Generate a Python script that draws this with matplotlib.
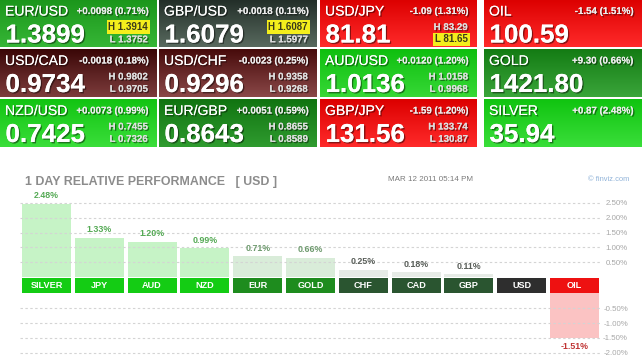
import matplotlib
matplotlib.use('Agg')
import matplotlib.pyplot as plt
import numpy as np
from matplotlib import patheffects as pe
from matplotlib.colors import to_rgb

plt.rcParams['font.family'] = ['Liberation Sans', 'DejaVu Sans']

# ---------------- data ----------------
tile_names = ['EUR/USD', 'GBP/USD', 'USD/JPY', 'OIL',
              'USD/CAD', 'USD/CHF', 'AUD/USD', 'GOLD',
              'NZD/USD', 'EUR/GBP', 'GBP/JPY', 'SILVER']
tile_changes = ['+0.0098', '+0.0018', '-1.09', '-1.54',
                '-0.0018', '-0.0023', '+0.0120', '+9.30',
                '+0.0073', '+0.0051', '-1.59', '+0.87']
tile_pcts = ['0.71%', '0.11%', '1.31%', '1.51%',
             '0.18%', '0.25%', '1.20%', '0.66%',
             '0.99%', '0.59%', '1.20%', '2.48%']
tile_prices = ['1.3899', '1.6079', '81.81', '100.59',
               '0.9734', '0.9296', '1.0136', '1421.80',
               '0.7425', '0.8643', '131.56', '35.94']
tile_highs = ['1.3914', '1.6087', '83.29', None,
              '0.9802', '0.9358', '1.0158', None,
              '0.7455', '0.8655', '133.74', None]
tile_lows = ['1.3752', '1.5977', '81.65', None,
             '0.9705', '0.9268', '0.9968', None,
             '0.7326', '0.8589', '130.87', None]
tile_marked = ['H', 'H', 'L', '',
               '', '', '', '',
               '', '', '', '']

perf_labels = ['SILVER', 'JPY', 'AUD', 'NZD', 'EUR', 'GOLD',
               'CHF', 'CAD', 'GBP', 'USD', 'OIL']
perf_values = [2.48, 1.33, 1.20, 0.99, 0.71, 0.66,
               0.25, 0.18, 0.11, 0.00, -1.51]
pos_ticks = [2.5, 2.0, 1.5, 1.0, 0.5]
neg_ticks = [-0.5, -1.0, -1.5, -2.0]

title_text = '1 DAY RELATIVE PERFORMANCE   [ USD ]'
date_text = 'MAR 12 2011 05:14 PM'
credit_text = '\u00a9 finviz.com'

# ---------------- styles ----------------
tile_grad = [('#1b961b', '#36b636'), ('#222e28', '#58695e'), ('#dc0000', '#ff2a2a'), ('#dc0000', '#ff2a2a'),
             ('#3a0707', '#7d3c3c'), ('#470b0b', '#8a4848'), ('#0fbf0f', '#36d836'), ('#147c14', '#3aa53a'),
             ('#12c412', '#3ade3a'), ('#117411', '#2f9b2f'), ('#dc0000', '#ff2a2a'), ('#10c410', '#3ade3a')]

bar_colors = ['#c6f3c6'] * 4 + ['#d9ecd9'] * 2 + ['#e6ebe6'] * 3 + ['#eeeeee', '#fbc3c3']
box_colors = ['#14cc14'] * 4 + ['#1e8c1e'] * 2 + ['#2a5530'] * 3 + ['#2e2e2e', '#ee1111']
val_colors = ['#55aa55'] * 4 + ['#6e9a6e'] * 2 + ['#5a5f5a'] * 3 + ['#555555', '#c03535']

W, H = 642, 362
fig = plt.figure(figsize=(W / 100, H / 100), dpi=100)
fig.patch.set_facecolor('white')

bg = fig.add_axes([0, 0, 1, 1])
bg.set_xlim(0, W)
bg.set_ylim(H, 0)
bg.axis('off')

col_left = [0, 159, 320, 484]
col_w = [157, 158, 157, 158]
row_top = [0, 49.5, 99.5]
row_h = 47.5

shadow = [pe.withSimplePatchShadow(offset=(1, -1), shadow_rgbFace='black', alpha=0.45), pe.Normal()]

for i, name in enumerate(tile_names):
    r, c = divmod(i, 4)
    L, T, Wt = col_left[c], row_top[r], col_w[c]
    top, bot = tile_grad[i]
    grad = np.linspace(np.array(to_rgb(top)), np.array(to_rgb(bot)), 64).reshape(64, 1, 3)
    bg.imshow(grad, extent=(L, L + Wt, T + row_h, T), aspect='auto', interpolation='bilinear', zorder=1)
    bg.text(L + 5, T + 15.5, name, color='white', fontsize=10.1, va='baseline', ha='left',
            path_effects=shadow, zorder=3)
    bg.text(L + Wt - 8, T + 14, f'{tile_changes[i]} ({tile_pcts[i]})', color='#ececec', fontsize=7,
            fontweight='bold', va='baseline', ha='right', path_effects=shadow, zorder=3)
    bg.text(L + 5.5, T + 42.5, tile_prices[i], color='white', fontsize=18.7, fontweight='bold',
            va='baseline', ha='left', path_effects=shadow, zorder=3)
    if tile_highs[i] is not None:
        for key, val, yc in (('H', tile_highs[i], 27), ('L', tile_lows[i], 39.3)):
            marked = tile_marked[i] == key
            kw = {}
            if marked:
                kw['bbox'] = dict(boxstyle='square,pad=0.18', fc='#f4ee1c', ec='none')
            bg.text(L + Wt - 9, T + yc, f'{key} {val}', fontsize=7, fontweight='bold',
                    color='#3a3a1a' if marked else '#dedede', va='center', ha='right',
                    path_effects=None if marked else shadow, zorder=3, **kw)

bg.set_xlim(0, W)
bg.set_ylim(H, 0)

# titles
bg.text(25, 185, title_text, color='#8c8c8c', fontsize=8.95, fontweight='bold', ha='left', va='baseline')
bg.text(388, 181, date_text, color='#7a7a7a', fontsize=5.8, ha='left', va='baseline')
bg.text(629, 181, credit_text, color='#8fb2d8', fontsize=5.4, ha='right', va='baseline')

# ---------------- performance chart ----------------
zero_px = 277.1
px_per_pct = 29.65
band = 0.55
ax_left_px, ax_right_px = 20.1, 600.9
ax_top_px, ax_bot_px = 195, 358
ax = fig.add_axes([ax_left_px / W, (H - ax_bot_px) / H,
                   (ax_right_px - ax_left_px) / W, (ax_bot_px - ax_top_px) / H])
ax.set_facecolor('none')
n = len(perf_labels)
ax.set_xlim(-0.5, n - 0.5)
ax.set_ylim((zero_px - ax_bot_px) / px_per_pct, (zero_px - ax_top_px) / px_per_pct)
for s in ax.spines.values():
    s.set_visible(False)

x = np.arange(n)
vals = np.array(perf_values)
bottoms = np.where(vals < 0, -band, 0.0)
ax.bar(x, vals, bottom=bottoms, width=0.93, color=bar_colors, zorder=1)
ax.bar(x, np.full(n, band * 0.93), bottom=-band, width=0.93, color=box_colors, zorder=2)
for xi, lab in zip(x, perf_labels):
    ax.text(xi, -band / 2 - 0.01, lab, color='white', fontsize=6.6, fontweight='bold',
            ha='center', va='center', zorder=4)
for xi, v, col in zip(x, vals, val_colors):
    if v > 0:
        ax.annotate(f'{v:.2f}%', (xi, v), xytext=(0, 2.3), textcoords='offset points',
                    ha='center', va='bottom', fontsize=6.4, fontweight='bold', color=col, zorder=4)
    elif v < 0:
        ax.annotate(f'{v:.2f}%', (xi, v - band), xytext=(0, -2.5), textcoords='offset points',
                    ha='center', va='top', fontsize=6.4, fontweight='bold', color=col, zorder=4)

tick_pos = pos_ticks + [t - band for t in neg_ticks]
tick_lab = [f'{t:.2f}%' for t in pos_ticks + neg_ticks]
ax.set_yticks(tick_pos, tick_lab)
ax.set_xticks([])
ax.yaxis.tick_right()
ax.tick_params(axis='y', length=0, pad=19.5, labelsize=5.7, labelcolor='#a8a8a8')
for t in ax.get_yticklabels():
    t.set_ha('right')
ax.yaxis.grid(True, linestyle=(0, (2.2, 2.2)), color='#d4d4d4', linewidth=0.8, zorder=3)
ax.set_axisbelow(False)

fig.savefig('out.png', dpi=100, facecolor='white')
